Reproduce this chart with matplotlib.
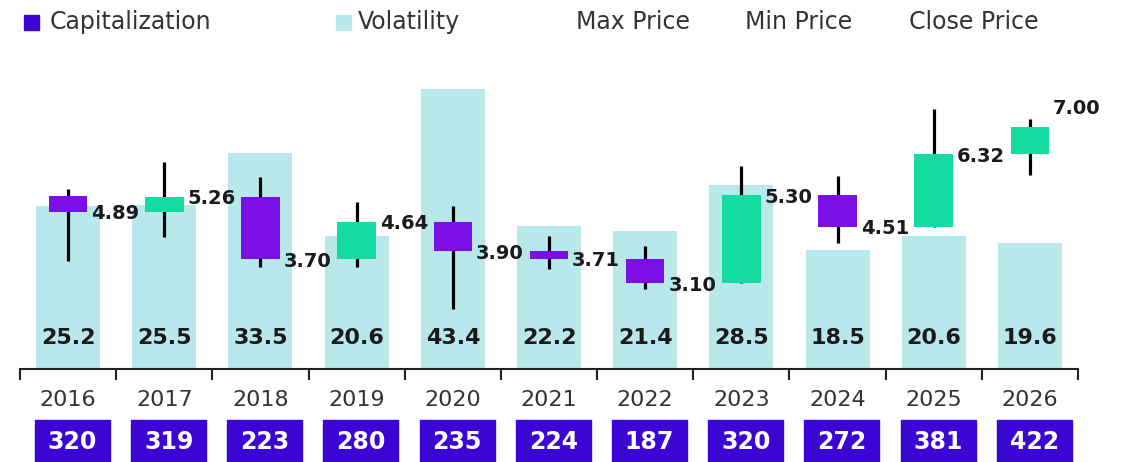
import matplotlib.pyplot as plt
from matplotlib.patches import Rectangle
import matplotlib.transforms as mtransforms

years = ['2016', '2017', '2018', '2019', '2020', '2021', '2022', '2023', '2024', '2025', '2026']
volatility = [25.2, 25.5, 33.5, 20.6, 43.4, 22.2, 21.4, 28.5, 18.5, 20.6, 19.6]
capitalization = [320, 319, 223, 280, 235, 224, 187, 320, 272, 381, 422]
open_price = [5.27, 4.89, 5.26, 3.70, 4.64, 3.90, 3.71, 3.10, 5.30, 4.51, 6.32]
close_price = [4.89, 5.26, 3.70, 4.64, 3.90, 3.71, 3.10, 5.30, 4.51, 6.32, 7.00]
max_price = [5.45, 6.14, 5.75, 5.14, 5.04, 4.29, 4.04, 6.04, 5.79, 7.45, 7.20]
min_price = [3.66, 4.25, 3.50, 3.50, 2.45, 3.46, 2.95, 3.10, 4.10, 4.51, 5.81]

W, H = 1129, 462
UP = '#14dba0'
DOWN = '#7b0fe8'
CAP = '#3b06d4'
VOL = '#b9e8ec'
TXT = '#333333'

plt.rcParams['font.family'] = ['DejaVu Sans']

fig = plt.figure(figsize=(W / 100, H / 100), dpi=100)
ax = fig.add_axes([20 / W, 93 / H, 1058 / W, 309 / H])
x = list(range(len(years)))

# volatility bars
ax.bar(x, volatility, width=0.665, color=VOL, zorder=1)
ax.set_xlim(-0.5, len(years) - 0.5)
ax.set_ylim(0, 309 / 6.45)
tr = mtransforms.blended_transform_factory(ax.transData, ax.transAxes)
for i, v in enumerate(volatility):
    ax.text(i, 0.1, f'{v:.1f}', transform=tr, ha='center', va='center',
            fontsize=16, fontweight='bold', color='#1a1a1a')

for s in ['top', 'left', 'right']:
    ax.spines[s].set_visible(False)
ax.spines['bottom'].set_linewidth(1.5)
ax.spines['bottom'].set_color('#222222')
ax.set_yticks([])
ax.set_xticks([])
ax.set_xticks([i - 0.5 for i in range(len(years) + 1)], minor=True)
ax.tick_params(axis='x', which='minor', length=8, width=1.5, color='#222222', direction='out')

# candles on a price axis
ax2 = ax.twinx()
ax2.set_ylim(0.96, 8.68)
ax2.axis('off')
colors = [UP if c >= o else DOWN for o, c in zip(open_price, close_price)]
ax2.vlines(x, min_price, max_price, color='black', lw=2.3, zorder=2)
ax2.bar(x, [c - o for o, c in zip(open_price, close_price)], bottom=open_price,
        width=0.4, color=colors, zorder=3)
for i, c in enumerate(close_price):
    dy = 0.47 if i == len(close_price) - 1 else -0.05
    ax2.text(i + 0.24, c + dy, f'{c:.2f}', ha='left', va='center',
             fontsize=14, fontweight='bold', color='#1a1a1a', zorder=4)

# year labels and capitalization boxes
for i, (yr, cap) in enumerate(zip(years, capitalization)):
    ax.text(i, -0.1, yr, transform=tr, ha='center', va='center', fontsize=16, color=TXT)
    ax.add_patch(Rectangle((i - 0.345, -0.31), 0.78, 0.145, transform=tr,
                           color=CAP, clip_on=False))
    ax.text(i + 0.045, -0.235, str(cap), transform=tr, ha='center', va='center',
            fontsize=17, fontweight='bold', color='white')

# legend
def square(x0, y0, color):
    fig.add_artist(Rectangle((x0 / W, 1 - (y0 + 15) / H), 15 / W, 15 / H,
                             transform=fig.transFigure, color=color))

square(24, 15, CAP)
fig.text(50 / W, 1 - 22 / H, 'Capitalization', ha='left', va='center', fontsize=17, color=TXT)
square(336, 15, VOL)
fig.text(358 / W, 1 - 22 / H, 'Volatility', ha='left', va='center', fontsize=17, color=TXT)
fig.text(576 / W, 1 - 22 / H, 'Max Price', ha='left', va='center', fontsize=17, color=TXT)
fig.text(745 / W, 1 - 22 / H, 'Min Price', ha='left', va='center', fontsize=17, color=TXT)
fig.text(909 / W, 1 - 22 / H, 'Close Price', ha='left', va='center', fontsize=17, color=TXT)

fig.savefig('out.png', dpi=100)
